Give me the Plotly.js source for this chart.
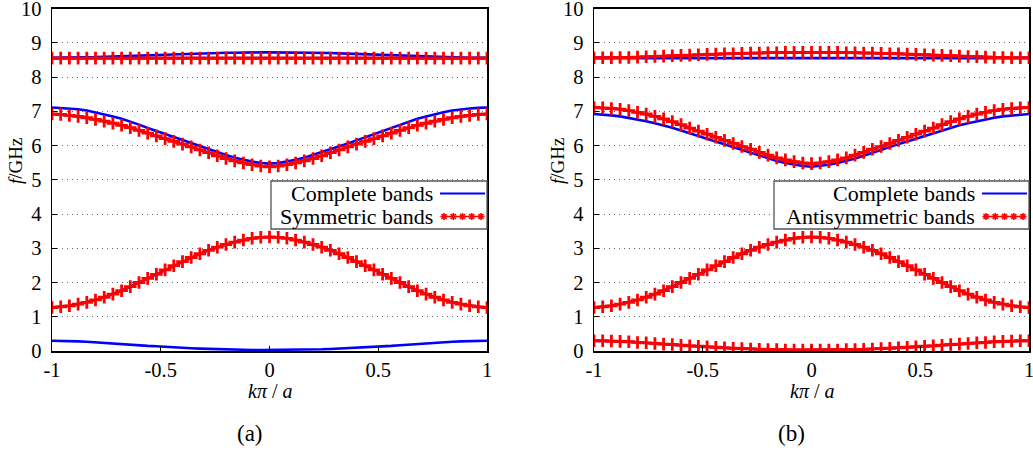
<!DOCTYPE html>
<html>
<head>
<meta charset="utf-8">
<script src="https://cdn.plot.ly/plotly-3.0.1.min.js"></script>
<style>
  html, body { margin: 0; padding: 0; background: #fff; }
  #chart { width: 1033px; height: 453px; }
  #chart svg text { font-family: "Liberation Serif", "Times New Roman", Tinos, "DejaVu Serif", serif !important; }
</style>
</head>
<body>
<div id="chart"></div>
<script>
// Normalised wavevector k·π/a
const k = [-1, -0.96, -0.92, -0.88, -0.84, -0.8, -0.76, -0.72, -0.68, -0.64, -0.6,
  -0.56, -0.52, -0.48, -0.44, -0.4, -0.36, -0.32, -0.28, -0.24, -0.2, -0.16, -0.12,
  -0.08, -0.04, 0, 0.04, 0.08, 0.12, 0.16, 0.2, 0.24, 0.28, 0.32, 0.36, 0.4, 0.44,
  0.48, 0.52, 0.56, 0.6, 0.64, 0.68, 0.72, 0.76, 0.8, 0.84, 0.88, 0.92, 0.96, 1];

// Band frequencies in GHz
const band1 = [0.30, 0.30, 0.29, 0.28, 0.27, 0.25, 0.24, 0.22, 0.20, 0.19, 0.17, 0.15, 0.14,
  0.12, 0.11, 0.09, 0.08, 0.07, 0.06, 0.05, 0.04, 0.04, 0.03, 0.03, 0.03, 0.03,
  0.03, 0.03, 0.03, 0.04, 0.04, 0.05, 0.06, 0.07, 0.08, 0.09, 0.11, 0.12, 0.14,
  0.15, 0.17, 0.19, 0.20, 0.22, 0.24, 0.25, 0.27, 0.28, 0.29, 0.30, 0.30];
const band2 = [1.27, 1.29, 1.32, 1.37, 1.42, 1.49, 1.57, 1.66, 1.76, 1.88, 2.00, 2.12, 2.24,
  2.37, 2.49, 2.61, 2.73, 2.84, 2.94, 3.03, 3.11, 3.18, 3.24, 3.29, 3.32, 3.33,
  3.32, 3.29, 3.24, 3.18, 3.11, 3.03, 2.94, 2.84, 2.73, 2.61, 2.49, 2.37, 2.24,
  2.12, 2.00, 1.88, 1.76, 1.66, 1.57, 1.49, 1.42, 1.37, 1.32, 1.29, 1.27];
const band3 = [6.92, 6.91, 6.88, 6.85, 6.81, 6.76, 6.71, 6.65, 6.59, 6.52, 6.44, 6.36, 6.28,
  6.20, 6.12, 6.04, 5.96, 5.87, 5.79, 5.70, 5.62, 5.55, 5.49, 5.44, 5.40, 5.38,
  5.40, 5.44, 5.49, 5.55, 5.62, 5.70, 5.79, 5.87, 5.96, 6.04, 6.12, 6.20, 6.28,
  6.36, 6.44, 6.52, 6.59, 6.65, 6.71, 6.76, 6.81, 6.85, 6.88, 6.91, 6.92];
const band4 = [7.11, 7.10, 7.08, 7.06, 7.02, 6.97, 6.92, 6.85, 6.78, 6.70, 6.61, 6.51, 6.42,
  6.33, 6.24, 6.15, 6.06, 5.97, 5.89, 5.80, 5.72, 5.64, 5.58, 5.53, 5.49, 5.47,
  5.49, 5.53, 5.58, 5.64, 5.72, 5.80, 5.89, 5.97, 6.06, 6.15, 6.24, 6.33, 6.42,
  6.51, 6.61, 6.70, 6.78, 6.85, 6.92, 6.97, 7.02, 7.06, 7.08, 7.10, 7.11];
const band5 = [8.55, 8.55, 8.55, 8.55, 8.55, 8.55, 8.55, 8.55, 8.55, 8.55, 8.55, 8.55, 8.55,
  8.55, 8.55, 8.55, 8.55, 8.55, 8.55, 8.55, 8.55, 8.55, 8.55, 8.55, 8.55, 8.55,
  8.55, 8.55, 8.55, 8.55, 8.55, 8.55, 8.55, 8.55, 8.55, 8.55, 8.55, 8.55, 8.55,
  8.55, 8.55, 8.55, 8.55, 8.55, 8.55, 8.55, 8.55, 8.55, 8.55, 8.55, 8.55];
const band6 = [8.56, 8.56, 8.56, 8.57, 8.57, 8.58, 8.59, 8.60, 8.61, 8.62, 8.63, 8.64, 8.65,
  8.66, 8.67, 8.68, 8.68, 8.69, 8.70, 8.70, 8.71, 8.71, 8.72, 8.72, 8.72, 8.72,
  8.72, 8.72, 8.72, 8.71, 8.71, 8.70, 8.70, 8.69, 8.68, 8.68, 8.67, 8.66, 8.65,
  8.64, 8.63, 8.62, 8.61, 8.60, 8.59, 8.58, 8.57, 8.57, 8.56, 8.56, 8.56];

// Which bands belong to each family
const completeBands = [band1, band2, band3, band4, band5, band6];
const symmetricBands = [band2, band3, band5];
const antisymmetricBands = [band1, band2, band4, band6];

// Axis ticks and text
const xTickVals = [-1, -0.5, 0, 0.5, 1];
const xTickText = ['-1', '-0.5', '0', '0.5', '1'];
const yTickVals = [0, 1, 2, 3, 4, 5, 6, 7, 8, 9, 10];
const yTickText = ['0', '1', '2', '3', '4', '5', '6', '7', '8', '9', '10'];
const legendComplete = 'Complete bands';
const legendSym = 'Symmetric bands';
const legendAnti = 'Antisymmetric bands';
const captions = ['(a)', '(b)'];

// ---- page geometry (pixels) ----
const W = 1033, H = 453;
const panels = [
  { x0: 52, x1: 487, xa: 'x', ya: 'y', redBands: symmetricBands, redName: legendSym,
    legend: { left: 271, text: 435 }, caption: captions[0] },
  { x0: 594, x1: 1029, xa: 'x2', ya: 'y2', redBands: antisymmetricBands, redName: legendAnti,
    legend: { left: 774, text: 977 }, caption: captions[1] }
];
const plotTop = 8.5, plotBottom = 351;
const px = v => v / W;
const py = v => 1 - v / H;

const SERIF = '"Liberation Serif", "Times New Roman", serif';
const BLUE = '#0000ff', RED = '#ff0000';

const traces = [];
panels.forEach(p => {
  completeBands.forEach(b => traces.push({
    x: k, y: b, xaxis: p.xa, yaxis: p.ya, type: 'scatter', mode: 'lines',
    line: { color: BLUE, width: 2.6 }, showlegend: false, hoverinfo: 'skip'
  }));
  p.redBands.forEach(b => traces.push({
    x: k, y: b, xaxis: p.xa, yaxis: p.ya, type: 'scatter', mode: 'lines+markers',
    line: { color: RED, width: 2 },
    marker: { symbol: 'cross-thin-open', size: 9, color: RED, line: { color: RED, width: 2.8 } },
    showlegend: false, hoverinfo: 'skip'
  }));
});

// Legend boxes drawn on a full-page overlay axis measured in pixels
const shapes = [];
const annotations = [];
const legTop = 181, legBottom = 229, row1 = 193.5, row2 = 216.5;
panels.forEach(p => {
  const right = p.x1;
  shapes.push({ type: 'rect', xref: 'x3', yref: 'y3', layer: 'between',
    x0: p.legend.left, x1: right, y0: legTop, y1: legBottom,
    fillcolor: '#ffffff', line: { color: '#555555', width: 1.3 } });
  const s0 = p.legend.text + 5, s1 = right - 2;
  traces.push({ x: [s0, s1], y: [row1, row1], xaxis: 'x3', yaxis: 'y3', mode: 'lines',
    line: { color: BLUE, width: 2 }, showlegend: false, hoverinfo: 'skip' });
  const n = 5, sx = [], sy = [];
  for (let i = 0; i < n; i++) { sx.push(s0 + 4 + i * (s1 - s0 - 8) / (n - 1)); sy.push(row2); }
  traces.push({ x: sx, y: sy, xaxis: 'x3', yaxis: 'y3', mode: 'lines+markers',
    line: { color: RED, width: 1.5 },
    marker: { symbol: 'asterisk-open', size: 6, color: RED, line: { color: RED, width: 1.6 } },
    showlegend: false, hoverinfo: 'skip' });
  annotations.push({ xref: 'paper', yref: 'paper', x: px(p.legend.text), y: py(row1),
    xanchor: 'right', yanchor: 'middle', text: legendComplete, showarrow: false,
    font: { family: SERIF, size: 22, color: '#000' } });
  annotations.push({ xref: 'paper', yref: 'paper', x: px(p.legend.text), y: py(row2),
    xanchor: 'right', yanchor: 'middle', text: p.redName, showarrow: false,
    font: { family: SERIF, size: 22, color: '#000' } });
  // axis titles and panel caption
  annotations.push({ xref: 'paper', yref: 'paper', x: px(p.x0 - 37), y: py(161),
    xanchor: 'center', yanchor: 'middle', textangle: -90, text: '<i>f</i>/GHz',
    showarrow: false, font: { family: SERIF, size: 19, color: '#000' } });
  annotations.push({ xref: 'paper', yref: 'paper', x: px((p.x0 + p.x1) / 2), y: py(391),
    xanchor: 'center', yanchor: 'middle', text: '<i>k</i><i>π</i> / <i>a</i>',
    showarrow: false, font: { family: SERIF, size: 20, color: '#000' } });
  annotations.push({ xref: 'paper', yref: 'paper', x: px((p.x0 + p.x1) / 2 - 20), y: py(433),
    xanchor: 'center', yanchor: 'middle', text: p.caption,
    showarrow: false, font: { family: SERIF, size: 23, color: '#000' } });
});

function xAxis(p, anchor) {
  return {
    domain: [px(p.x0), px(p.x1)], anchor: anchor, range: [-1, 1],
    tickmode: 'array', tickvals: xTickVals, ticktext: xTickText,
    ticks: 'inside', ticklen: 5, tickwidth: 1, tickcolor: '#000',
    ticklabeloverflow: 'allow',
    showline: true, mirror: true, linecolor: '#000', linewidth: 1.5,
    showgrid: false, zeroline: false,
    tickfont: { family: SERIF, size: 20.5, color: '#000' }
  };
}
function yAxis(anchor) {
  return {
    domain: [py(plotBottom), py(plotTop)], anchor: anchor, range: [0, 10],
    tickmode: 'array', tickvals: yTickVals, ticktext: yTickText,
    ticks: 'inside', ticklen: 5, tickwidth: 1, tickcolor: '#000',
    ticklabeloverflow: 'allow', ticklabelstandoff: 5,
    showline: true, mirror: true, linecolor: '#000', linewidth: 1.5,
    showgrid: true, gridcolor: '#666666', gridwidth: 1, griddash: '1px,4px',
    zeroline: false,
    tickfont: { family: SERIF, size: 20.5, color: '#000' }
  };
}

const layout = {
  width: W, height: H,
  margin: { l: 0, r: 0, t: 0, b: 0, pad: 0 },
  paper_bgcolor: '#ffffff', plot_bgcolor: 'rgba(0,0,0,0)',
  font: { family: SERIF, color: '#000' },
  showlegend: false,
  xaxis: xAxis(panels[0], 'y'), yaxis: yAxis('x'),
  xaxis2: xAxis(panels[1], 'y2'), yaxis2: yAxis('x2'),
  xaxis3: { domain: [0, 1], anchor: 'y3', range: [0, W], visible: false, fixedrange: true },
  yaxis3: { domain: [0, 1], anchor: 'x3', range: [H, 0], visible: false, fixedrange: true },
  shapes: shapes,
  annotations: annotations
};

Plotly.newPlot('chart', traces, layout, { staticPlot: true, displayModeBar: false });
</script>
</body>
</html>
